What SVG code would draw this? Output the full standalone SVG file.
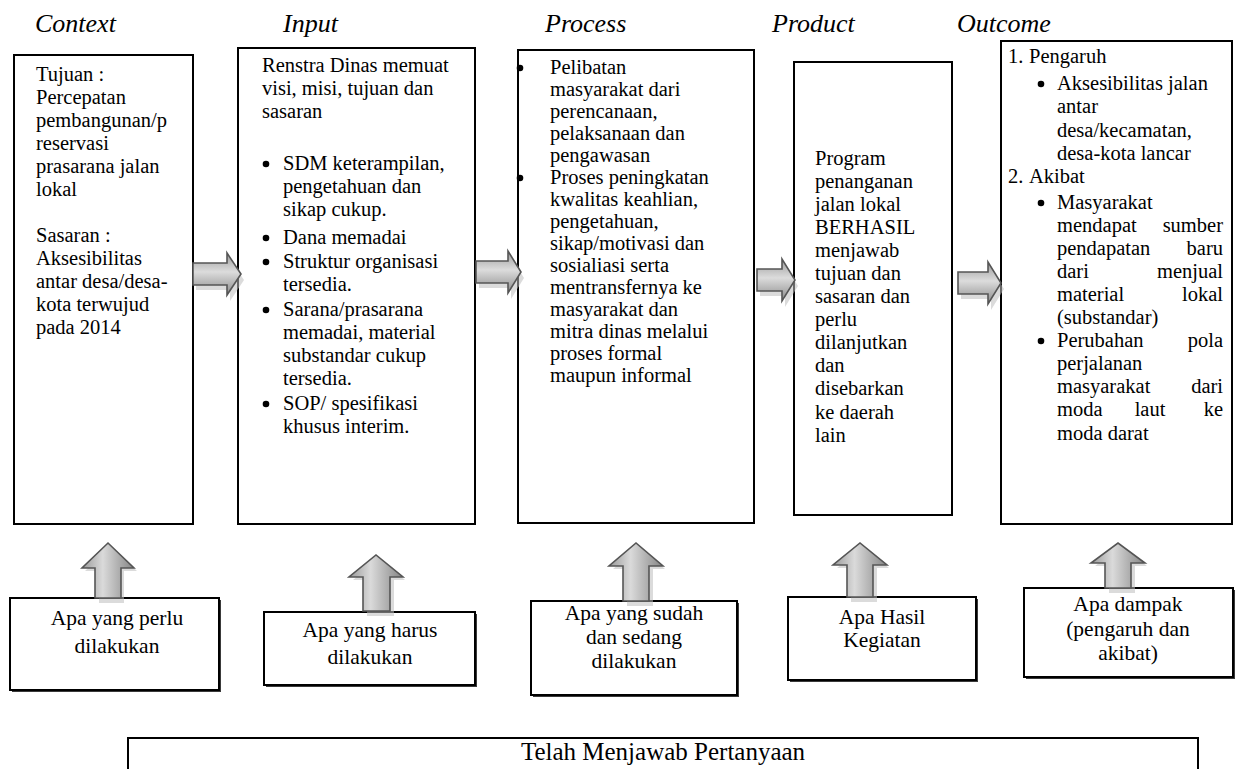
<svg xmlns="http://www.w3.org/2000/svg" width="1240" height="769" viewBox="0 0 1240 769">
<defs>
<linearGradient id="gh" x1="0" y1="0" x2="0" y2="1">
<stop offset="0" stop-color="#9a9a9a"/>
<stop offset="0.45" stop-color="#dcdcdc"/>
<stop offset="1" stop-color="#8a8a8a"/>
</linearGradient>
<linearGradient id="gv" x1="0" y1="0" x2="1" y2="0">
<stop offset="0" stop-color="#9a9a9a"/>
<stop offset="0.4" stop-color="#dadada"/>
<stop offset="1" stop-color="#858585"/>
</linearGradient>
<style>
.t{font-family:"Liberation Serif","Times New Roman",serif;font-size:20.5px;fill:#000}
.b{font-size:21.5px}
.c{text-anchor:middle}
.e{text-anchor:end}
.h{font-family:"Liberation Serif","Times New Roman",serif;font-style:italic;font-size:26px;fill:#000}
.box{fill:#fff;stroke:#000;stroke-width:2}
.sh{fill:#3a3a3a}
.ar{stroke:#555;stroke-width:1.6;stroke-linejoin:miter}
.ash{fill:#bdbdbd;opacity:0.55}
</style>
</defs>

<g id="headers">
<text class="h" x="35" y="32">Context</text>
<text class="h" x="283" y="32">Input</text>
<text class="h" x="545" y="32">Process</text>
<text class="h" x="772" y="32">Product</text>
<text class="h" x="957" y="32">Outcome</text>
</g>

<g id="context">
<rect class="box" x="14" y="55" width="179" height="469"/>
<text class="t" x="36" y="81">Tujuan :</text>
<text class="t" x="36" y="104">Percepatan</text>
<text class="t" x="36" y="127">pembangunan/p</text>
<text class="t" x="36" y="150">reservasi</text>
<text class="t" x="36" y="173">prasarana jalan</text>
<text class="t" x="36" y="196">lokal</text>
<text class="t" x="36" y="242">Sasaran :</text>
<text class="t" x="36" y="265">Aksesibilitas</text>
<text class="t" x="36" y="288">antar desa/desa-</text>
<text class="t" x="36" y="311">kota terwujud</text>
<text class="t" x="36" y="334">pada 2014</text>
</g>

<g id="input">
<rect class="box" x="238" y="48" width="237" height="476"/>
<text class="t" x="262" y="72">Renstra Dinas memuat</text>
<text class="t" x="262" y="95">visi, misi, tujuan dan</text>
<text class="t" x="262" y="118">sasaran</text>
<g fill="#000">
<circle cx="266" cy="164" r="3.3"/>
<circle cx="266" cy="238" r="3.3"/>
<circle cx="266" cy="262" r="3.3"/>
<circle cx="266" cy="310" r="3.3"/>
<circle cx="266" cy="404" r="3.3"/>
</g>
<text class="t" x="283" y="170">SDM keterampilan,</text>
<text class="t" x="283" y="193">pengetahuan dan</text>
<text class="t" x="283" y="216">sikap cukup.</text>
<text class="t" x="283" y="244">Dana memadai</text>
<text class="t" x="283" y="268">Struktur organisasi</text>
<text class="t" x="283" y="291">tersedia.</text>
<text class="t" x="283" y="316">Sarana/prasarana</text>
<text class="t" x="283" y="339">memadai, material</text>
<text class="t" x="283" y="362">substandar cukup</text>
<text class="t" x="283" y="385">tersedia.</text>
<text class="t" x="283" y="410">SOP/ spesifikasi</text>
<text class="t" x="283" y="433">khusus interim.</text>
</g>

<g id="process">
<rect class="box" x="518" y="50" width="236" height="473"/>
<g fill="#000">
<circle cx="520" cy="68" r="3.3"/>
<circle cx="520" cy="178" r="3.3"/>
</g>
<text class="t" x="550" y="74">Pelibatan</text>
<text class="t" x="550" y="96">masyarakat dari</text>
<text class="t" x="550" y="118">perencanaan,</text>
<text class="t" x="550" y="140">pelaksanaan dan</text>
<text class="t" x="550" y="162">pengawasan</text>
<text class="t" x="550" y="184">Proses peningkatan</text>
<text class="t" x="550" y="206">kwalitas keahlian,</text>
<text class="t" x="550" y="228">pengetahuan,</text>
<text class="t" x="550" y="250">sikap/motivasi dan</text>
<text class="t" x="550" y="272">sosialiasi serta</text>
<text class="t" x="550" y="294">mentransfernya ke</text>
<text class="t" x="550" y="316">masyarakat dan</text>
<text class="t" x="550" y="338">mitra dinas melalui</text>
<text class="t" x="550" y="360">proses formal</text>
<text class="t" x="550" y="382">maupun informal</text>
</g>

<g id="product">
<rect class="box" x="794" y="62" width="158" height="453"/>
<text class="t" x="815" y="165">Program</text>
<text class="t" x="815" y="188">penanganan</text>
<text class="t" x="815" y="211">jalan lokal</text>
<text class="t" x="815" y="234">BERHASIL</text>
<text class="t" x="815" y="257">menjawab</text>
<text class="t" x="815" y="280">tujuan dan</text>
<text class="t" x="815" y="303">sasaran dan</text>
<text class="t" x="815" y="326">perlu</text>
<text class="t" x="815" y="349">dilanjutkan</text>
<text class="t" x="815" y="372">dan</text>
<text class="t" x="815" y="395">disebarkan</text>
<text class="t" x="815" y="419">ke daerah</text>
<text class="t" x="815" y="442">lain</text>
</g>

<g id="outcome">
<rect class="box" x="1001" y="41" width="231" height="483"/>
<text class="t" x="1008" y="63">1.</text>
<text class="t" x="1029" y="63">Pengaruh</text>
<text class="t" x="1008" y="183">2.</text>
<text class="t" x="1029" y="183">Akibat</text>
<g fill="#000">
<circle cx="1041" cy="84" r="3.3"/>
<circle cx="1041" cy="203" r="3.3"/>
<circle cx="1041" cy="341" r="3.3"/>
</g>
<text class="t" x="1057" y="90">Aksesibilitas jalan</text>
<text class="t" x="1057" y="113">antar</text>
<text class="t" x="1057" y="137">desa/kecamatan,</text>
<text class="t" x="1057" y="160">desa-kota lancar</text>
<text class="t" x="1057" y="209">Masyarakat</text>
<text class="t" x="1057" y="232">mendapat</text><text class="t e" x="1223" y="232">sumber</text>
<text class="t" x="1057" y="255">pendapatan</text><text class="t e" x="1223" y="255">baru</text>
<text class="t" x="1057" y="278">dari</text><text class="t e" x="1223" y="278">menjual</text>
<text class="t" x="1057" y="301">material</text><text class="t e" x="1223" y="301">lokal</text>
<text class="t" x="1057" y="324">(substandar)</text>
<text class="t" x="1057" y="347">Perubahan</text><text class="t e" x="1223" y="347">pola</text>
<text class="t" x="1057" y="370">perjalanan</text>
<text class="t" x="1057" y="393">masyarakat</text><text class="t e" x="1223" y="393">dari</text>
<text class="t" x="1057" y="416">moda</text><text class="t c" x="1150" y="416">laut</text><text class="t e" x="1223" y="416">ke</text>
<text class="t" x="1057" y="440">moda darat</text>
</g>

<g id="q1">
<rect class="sh" x="12" y="600" width="209" height="92"/>
<rect class="box" x="10" y="598" width="209" height="92"/>
<text class="t b c" x="117" y="625">Apa yang perlu</text>
<text class="t b c" x="117" y="653">dilakukan</text>
</g>
<g id="q2">
<rect class="sh" x="266" y="614" width="211" height="73"/>
<rect class="box" x="264" y="612" width="211" height="73"/>
<text class="t b c" x="370" y="637">Apa yang harus</text>
<text class="t b c" x="370" y="664">dilakukan</text>
</g>
<g id="q3">
<rect class="sh" x="533" y="603" width="206" height="94"/>
<rect class="box" x="531" y="601" width="206" height="94"/>
<text class="t b c" x="634" y="620">Apa yang sudah</text>
<text class="t b c" x="634" y="644">dan sedang</text>
<text class="t b c" x="634" y="668">dilakukan</text>
</g>
<g id="q4">
<rect class="sh" x="790" y="599" width="188" height="83"/>
<rect class="box" x="788" y="597" width="188" height="83"/>
<text class="t b c" x="882" y="624">Apa Hasil</text>
<text class="t b c" x="882" y="647">Kegiatan</text>
</g>
<g id="q5">
<rect class="sh" x="1026" y="590" width="209" height="89"/>
<rect class="box" x="1024" y="588" width="209" height="89"/>
<text class="t b c" x="1128" y="611">Apa dampak</text>
<text class="t b c" x="1128" y="636">(pengaruh dan</text>
<text class="t b c" x="1128" y="660">akibat)</text>
</g>

<g id="answer">
<rect class="box" x="128" y="738" width="1070" height="40"/>
<text class="t c" x="663" y="760" style="font-size:25px">Telah Menjawab Pertanyaan</text>
</g>

<g id="connectors">
<path class="ash" d="M196 270 H230 V259 L244 280 L230 301 V290 H196 Z"/>
<path class="ar" fill="url(#gh)" d="M193 263 H227 V253 L241 274 L227 295 V285 H193 Z"/>
<path class="ash" d="M479 268 H511 V257 L524 278 L511 299 V288 H479 Z"/>
<path class="ar" fill="url(#gh)" d="M476 261 H508 V251 L521 272 L508 293 V283 H476 Z"/>
<path class="ash" d="M760 276 H785 V265 L798 286 L785 307 V296 H760 Z"/>
<path class="ar" fill="url(#gh)" d="M757 269 H782 V259 L795 280 L782 301 V291 H757 Z"/>
<path class="ash" d="M961 279 H991 V268 L1004 289 L991 310 V299 H961 Z"/>
<path class="ar" fill="url(#gh)" d="M958 272 H988 V262 L1001 283 L988 304 V294 H958 Z"/>

<path class="ash" d="M99 603 V571 H85 L111 546 L137 571 H124 V603 Z"/>
<path class="ar" fill="url(#gv)" d="M95 598 V568 H82 L108 543 L134 568 H121 V598 Z"/>
<path class="ash" d="M367 616 V580 H353 L379 558 L405 580 H394 V616 Z"/>
<path class="ar" fill="url(#gv)" d="M363 611 V577 H349 L376 555 L403 577 H390 V611 Z"/>
<path class="ash" d="M627 606 V569 H613 L639 546 L665 569 H653 V606 Z"/>
<path class="ar" fill="url(#gv)" d="M623 601 V566 H609 L636 543 L663 566 H649 V601 Z"/>
<path class="ash" d="M851 602 V568 H837 L863 546 L889 568 H877 V602 Z"/>
<path class="ar" fill="url(#gv)" d="M847 597 V565 H833 L860 543 L887 565 H873 V597 Z"/>
<path class="ash" d="M1109 593 V566 H1095 L1121 546 L1147 566 H1135 V593 Z"/>
<path class="ar" fill="url(#gv)" d="M1105 588 V563 H1091 L1118 543 L1145 563 H1131 V588 Z"/>
</g>
</svg>
